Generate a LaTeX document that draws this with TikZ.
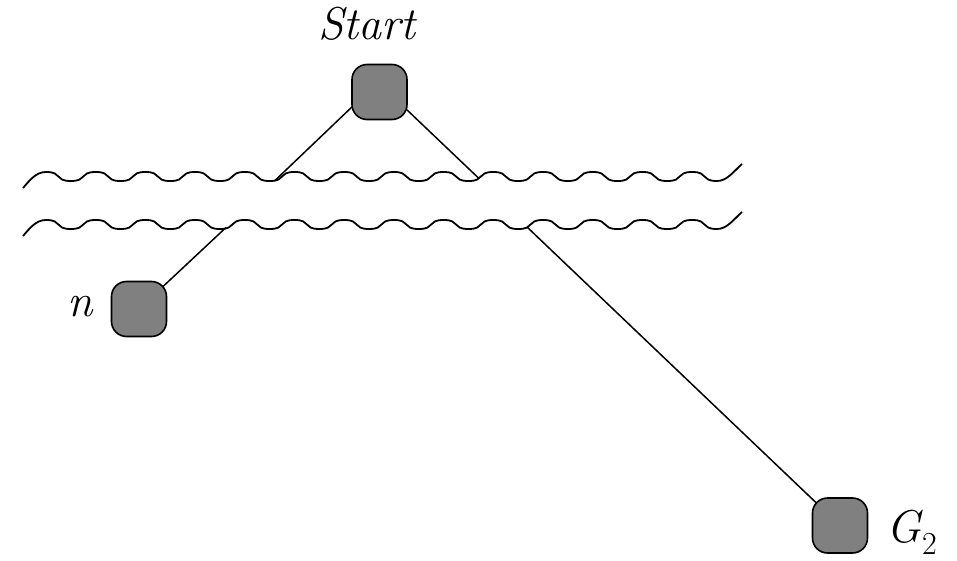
\documentclass[tikz,border=0pt]{standalone}
\usetikzlibrary{calc}
\pgfdeclarelayer{bg}
\pgfsetlayers{bg,main}
\definecolor{nodegray}{RGB}{128,128,128}
\tikzset{
  blob/.style={draw=black, fill=nodegray, line width=1.6pt, rounded corners=15pt,
    minimum width=55pt, minimum height=55pt, inner sep=0pt},
  waveline/.style={line width=1.8pt, line join=round},
  link/.style={line width=1.5pt},
  lbl/.style={font=\fontsize{46}{55}\selectfont\itshape, inner sep=0pt, anchor=base}
}
\newcommand\wavyline{%
  \draw[waveline] (23,188) .. controls (30,180) and (36,172) .. (46,172)
    \foreach \k in {0,...,12} {
      .. controls (46+49.7*\k+17,172) and (70.85+49.7*\k-17,181) .. (70.85+49.7*\k,181)
      .. controls (70.85+49.7*\k+17,181) and (95.7+49.7*\k-17,172) .. (95.7+49.7*\k,172)
    }
    .. controls (692.1+17,172) and (716.95-17,181) .. (716.95,181)
    .. controls (727,181) and (733,172) .. (742,164);
}
\begin{document}
\begin{tikzpicture}[x=1pt,y=-1pt]
\useasboundingbox (0,0) rectangle (957,561);
% wavy lines
\wavyline
\begin{scope}[shift={(0,48)}]
\wavyline
\end{scope}
% nodes
\node[blob] (start) at (379.5,92) {};
\node[blob] (n) at (139,309) {};
\node[blob] (g2) at (840,525.5) {};
% labels
\node[lbl] (startlbl) at (367,40) {Start};
\node[lbl] (nlbl) at (80,316.7) {n};
\node[lbl, anchor=base west] (g2lbl) at (886,542) {G\kern1pt\raisebox{-12pt}{\fontsize{32}{38}\selectfont\upshape 2}};
% contact points on wavy lines
\coordinate (w1a) at (275,180.5);
\coordinate (w1b) at (479,178.5);
\coordinate (w2a) at (226,227.5);
\coordinate (w2b) at (527,227);
% connectors
\begin{pgfonlayer}{bg}
\draw[link] ($(start.center)+(-14.5,2.5)$) -- (w1a);
\draw[link] ($(start.center)+(15.5,6.5)$) -- (w1b);
\draw[link] (n.center) -- (w2a);
\draw[link] (g2.center) -- (w2b);
\end{pgfonlayer}
\end{tikzpicture}
\end{document}
